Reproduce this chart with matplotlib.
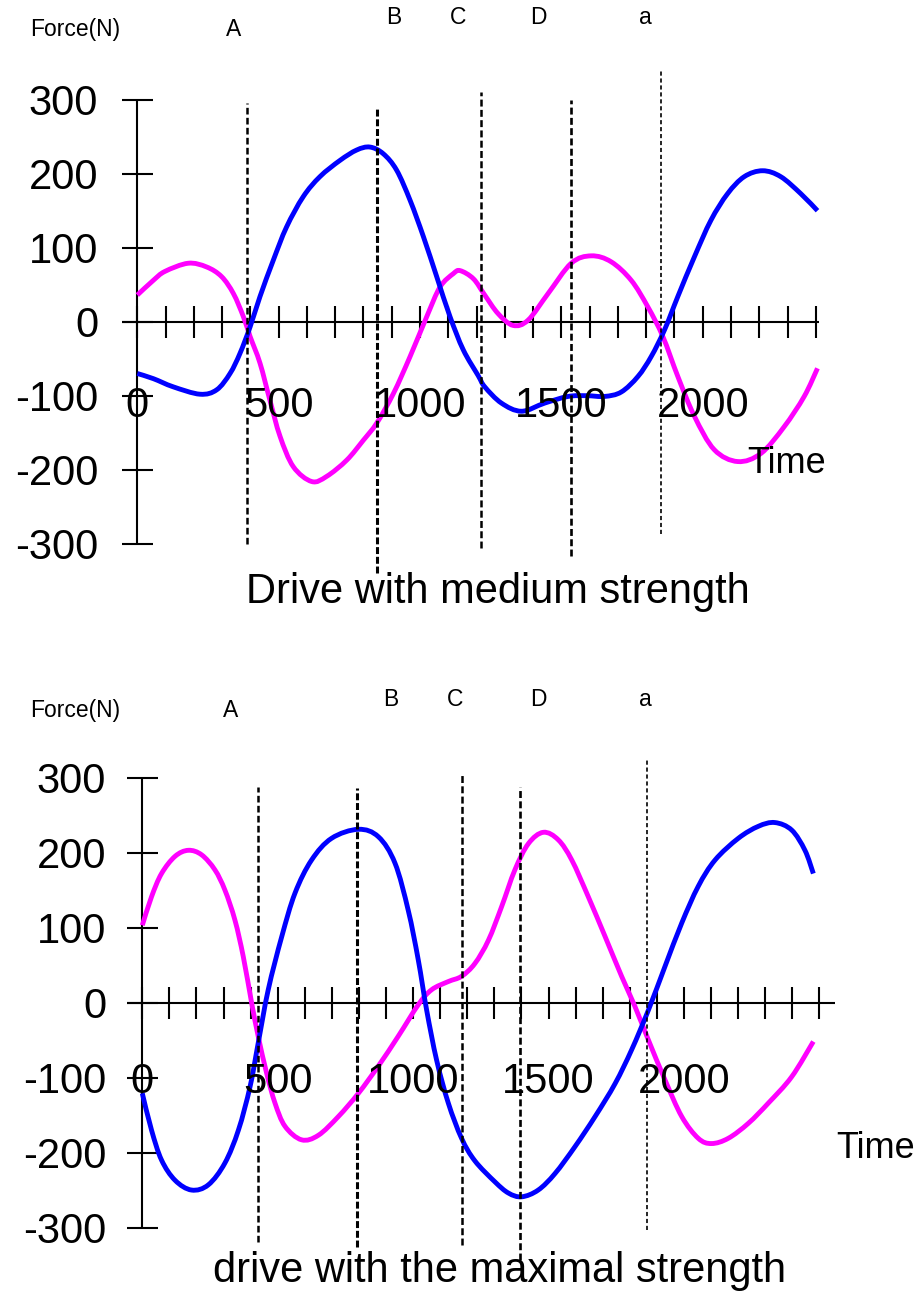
import numpy as np
import matplotlib
matplotlib.use("Agg")
import matplotlib.pyplot as plt
from matplotlib.path import Path
from matplotlib.patches import PathPatch
from matplotlib.transforms import offset_copy

plt.rcParams['font.family'] = ['Liberation Sans', 'DejaVu Sans']
plt.rcParams['lines.scale_dashes'] = False

W, H, DPI = 922, 1292, 100

# ---- data ----
yticks = [-300, -200, -100, 0, 100, 200, 300]
xtick_labels = [0, 500, 1000, 1500, 2000]
marker_names = ["A", "B", "C", "D", "a"]

# top panel: drive with medium strength
med_mag_t = [0, 57, 98, 180, 245, 298, 340, 375, 399, 434, 469, 505, 552, 617, 670, 741, 800,
             847, 906, 965, 1024, 1071, 1118, 1142, 1189, 1229, 1276, 1329, 1382, 1453, 1535,
             1606, 1676, 1747, 1806, 1859, 1912, 1971, 2041, 2124, 2206, 2288, 2359, 2406]
med_mag_f = [36, 56, 68, 79, 74, 61, 38, 7, -20, -56, -106, -155, -196, -216, -209, -187, -160,
             -137, -97, -47, 7, 47, 65, 69, 58, 36, 11, -5, 2, 38, 79,
             89, 81, 56, 20, -20, -74, -128, -173, -189, -178, -142, -101, -63]
med_blue_t = [0, 57, 127, 222, 281, 328, 363, 399, 434, 481, 528, 587, 646, 717, 776, 823, 870,
              917, 965, 1012, 1059, 1106, 1153, 1206, 1229, 1288, 1359, 1441, 1524, 1590, 1653,
              1712, 1771, 1818, 1865, 1912, 1971, 2029, 2088, 2147, 2212, 2276, 2347, 2406]
med_blue_f = [-70, -77, -88, -98, -92, -70, -43, -7, 34, 83, 128, 169, 196, 218, 232, 236, 227,
              205, 164, 115, 61, 7, -38, -73, -88, -110, -121, -110, -101, -100, -101,
              -95, -74, -47, -11, 34, 88, 137, 173, 196, 204, 196, 173, 150]
med_markers = [387, 847, 1216, 1534, 1851]
med_marker_top = [296, 287, 310, 300, 339]
med_marker_bot = [-300, -340, -306, -317, -287]

# bottom panel: drive with the maximal strength
max_mag_t = [0, 34, 71, 121, 170, 219, 268, 305, 342, 373, 404, 428, 459, 490, 527, 588, 650,
             724, 798, 871, 945, 1019, 1068, 1130, 1179, 1228, 1278, 1327, 1376, 1426, 1481,
             1536, 1586, 1647, 1709, 1770, 1819, 1869, 1930, 1992, 2053, 2102, 2164, 2238,
             2312, 2398, 2478]
max_mag_f = [104, 142, 173, 196, 204, 198, 178, 151, 111, 62, 0, -44, -93, -133, -164, -182, -176,
             -151, -120, -84, -44, -2, 18, 29, 36, 53, 84, 129, 178, 213, 228,
             218, 191, 142, 89, 36, -4, -49, -102, -151, -180, -187, -180, -160,
             -133, -98, -51]
max_blue_t = [0, 34, 71, 121, 182, 244, 305, 355, 398, 428, 465, 515, 564, 625, 699, 798, 872,
              933, 982, 1019, 1050, 1087, 1130, 1179, 1228, 1302, 1352, 1401, 1462, 1524, 1598,
              1672, 1746, 1807, 1869, 1930, 1992, 2053, 2115, 2201, 2275, 2336, 2398, 2447, 2478]
max_blue_f = [-120, -169, -209, -236, -249, -242, -213, -169, -111, -53, 18, 89, 147, 191, 220, 232, 222,
              187, 124, 58, -9, -76, -133, -180, -210, -238, -253, -258, -249, -227, -191,
              -151, -107, -62, -9, 49, 107, 156, 191, 220, 236, 241, 231, 204, 173]
max_markers = [428, 792, 1182, 1395, 1862]
max_marker_top = [288, 287, 306, 288, 324]
max_marker_bot = [-318, -325, -322, -342, -302]

MAGENTA = "#ff00ff"
BLUE = "#0000ff"

fig = plt.figure(figsize=(W / DPI, H / DPI), dpi=DPI)


def fig_text(px, py, s, **kw):
    fig.text(px / W, 1 - py / H, s, **kw)


def smooth_curve(ax, x, y, color):
    # smooth Bezier drawing through the read points (Catmull-Rom style handles)
    pts = np.column_stack([x, y]).astype(float)
    n = len(pts)
    verts = [pts[0]]
    codes = [Path.MOVETO]
    for i in range(n - 1):
        p_prev = pts[i - 1] if i > 0 else pts[i]
        p_next = pts[i + 2] if i + 2 < n else pts[i + 1]
        verts += [pts[i] + (pts[i + 1] - p_prev) / 6,
                  pts[i + 1] - (p_next - pts[i]) / 6,
                  pts[i + 1]]
        codes += [Path.CURVE4] * 3
    ax.add_patch(PathPatch(Path(verts, codes), fill=False, edgecolor=color,
                           lw=3.5, capstyle="butt", joinstyle="round", zorder=3))


def panel(box, ox, oy, sx, sy, xmax, axis_end, mag, blue, markers, mtop, mbot, xlab_dy, ylab_dx):
    py0, py1 = box
    ax = fig.add_axes([0, 1 - py1 / H, 1, (py1 - py0) / H])
    ax.set_xlim(-ox / sx, (W - ox) / sx)
    ax.set_ylim((oy - py1) / sy, (oy - py0) / sy)
    ax.axis("off")

    k = dict(color="black", lw=1.5, solid_capstyle="butt", zorder=2)
    # axes with crossing ticks
    ax.plot([0, 0], [yticks[0], yticks[-1]], **k)
    for y in yticks:
        ax.plot([-15.5 / sx, 15.5 / sx], [y, y], **k)
    ax.plot([-15.5 / sx, axis_end], [0, 0], **k)
    for t in np.arange(0, xmax + 1, 100):
        ax.plot([t, t], [-16 / sy, 16 / sy], **k)

    smooth_curve(ax, mag[0], mag[1], MAGENTA)
    smooth_curve(ax, blue[0], blue[1], BLUE)

    widths = [1.8, 2.2, 1.8, 1.9, 1.2]
    dashes = [(4.8, 2.4), (5, 2), (5, 2.4), (5, 2.4), (3, 2)]
    for x, y0, y1, w, d in zip(markers, mbot, mtop, widths, dashes):
        ax.plot([x, x], [y0, y1], color="black", lw=w, dashes=d, zorder=4)

    ytr = offset_copy(ax.transData, fig=fig, x=ylab_dx, y=-15, units="dots")
    for y in yticks:
        ax.text(0, y, str(y), transform=ytr, ha="right", va="baseline", fontsize=30, zorder=5)
    xtr = offset_copy(ax.transData, fig=fig, x=0, y=xlab_dy, units="dots")
    for t in xtick_labels:
        ax.text(t, 0, str(t), transform=xtr, ha="center", va="baseline", fontsize=30, zorder=5)
    return ax


panel((0, 650), 137.3, 321.7, 0.2827, 0.74, 2400, 2410,
      (med_mag_t, med_mag_f), (med_blue_t, med_blue_f),
      med_markers, med_marker_top, med_marker_bot, -95, -39)
panel((650, 1292), 142.3, 1003.3, 0.2708, 0.75, 2500, 2558,
      (max_mag_t, max_mag_f), (max_blue_t, max_blue_f),
      max_markers, max_marker_top, max_marker_bot, -90, -36)

# header labels
small = dict(fontsize=16.5, ha="left", va="baseline")
fig_text(30, 36, "Force(N)", **small)
fig_text(30, 717, "Force(N)", **small)
for name, px, py in zip(marker_names, [226, 386, 450, 530, 639], [36, 24, 24, 24, 24]):
    fig_text(px, py, name, **small)
for name, px, py in zip(marker_names, [223, 383, 447, 530, 639], [717, 706, 706, 706, 706]):
    fig_text(px, py, name, **small)

fig_text(747, 473, "Time", fontsize=26, ha="left", va="baseline", zorder=6)
fig_text(836, 1158, "Time", fontsize=26, ha="left", va="baseline")

fig_text(498, 603, "Drive with medium strength", fontsize=30, ha="center", va="baseline")
fig_text(500, 1282, "drive with the maximal strength", fontsize=30, ha="center", va="baseline")

fig.savefig("out.png", dpi=DPI)
